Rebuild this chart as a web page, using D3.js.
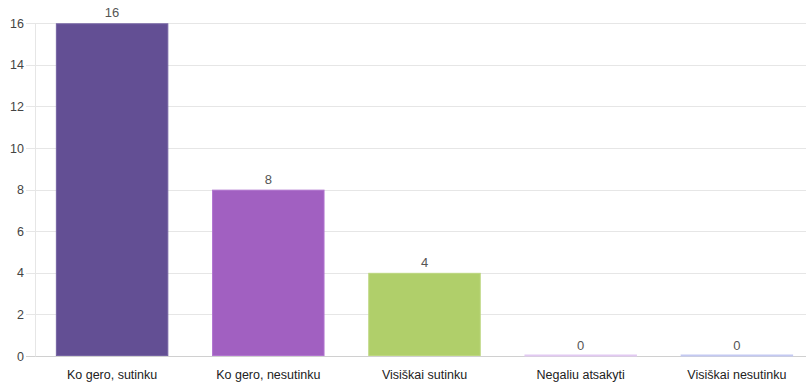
<!DOCTYPE html>
<html><head><meta charset="utf-8">
<script src="https://cdn.jsdelivr.net/npm/d3@7"></script>
<style>body{margin:0;background:#fff}svg{display:block;font-family:Arial,"Liberation Sans",sans-serif}</style>
</head><body>
<svg id="c" width="806" height="385"></svg>
<script>
const categories = ["Ko gero, sutinku","Ko gero, nesutinku","Visiškai sutinku","Negaliu atsakyti","Visiškai nesutinku"];
const values = [16, 8, 4, 0, 0];
const fills = ["#634f94","#a160c1","#b0cf6a","#e2c9f2","#c4c9f2"];
const strokes = ["#7563a3","#b174cf","#bdd77f","#e2c9f2","#c4c9f2"];
const yTicks = [0,2,4,6,8,10,12,14,16];

const svg = d3.select("#c");
const x = d3.scaleBand().domain(categories).range([34, 815]).paddingInner(0.28).paddingOuter(0.14);
const y = d3.scaleLinear().domain([0,16]).range([356, 23.3]);

// gridlines
svg.append("g").selectAll("line").data(yTicks).join("line")
  .attr("x1",26).attr("x2",806)
  .attr("y1",d=>Math.round(y(d))+0.5).attr("y2",d=>Math.round(y(d))+0.5)
  .attr("stroke",d=>d===0?"#d0d0d0":"#e6e6e6").attr("stroke-width",1);
// vertical axis line
svg.append("line").attr("x1",35.5).attr("x2",35.5).attr("y1",y(16)).attr("y2",y(0)+0.5)
  .attr("stroke","#e6e6e6");

// y axis labels
const yAxis = d3.axisLeft(y).tickValues(yTicks).tickSize(0).tickPadding(0);
const ga = svg.append("g").attr("transform","translate(24,0)").call(yAxis);
ga.select(".domain").remove();
ga.selectAll("text").attr("font-size",12.5).attr("fill","#444").attr("font-family","Arial,'Liberation Sans',sans-serif");

// bars
svg.append("g").selectAll("rect").data(values).join("rect")
  .attr("x",(d,i)=>x(categories[i])+0.5)
  .attr("y",d=>y(d)+0.5)
  .attr("width",x.bandwidth()-1)
  .attr("height",d=>Math.max(0,y(0)-y(d)-1))
  .attr("fill",(d,i)=>fills[i])
  .attr("stroke",(d,i)=>strokes[i]).attr("stroke-width",1);
// zero-height bars line
svg.append("g").selectAll("line").data(values.map((v,i)=>({v,i})).filter(o=>o.v===0)).join("line")
  .attr("x1",o=>x(categories[o.i])).attr("x2",o=>x(categories[o.i])+x.bandwidth())
  .attr("y1",y(0)-0.5).attr("y2",y(0)-0.5)
  .attr("stroke",o=>fills[o.i]).attr("stroke-width",2);

// value labels
svg.append("g").selectAll("text").data(values).join("text")
  .attr("x",(d,i)=>x(categories[i])+x.bandwidth()/2)
  .attr("y",d=>y(d)-6)
  .attr("text-anchor","middle").attr("font-size",13).attr("fill","#555")
  .text(d=>d);

// category labels
const xAxis = d3.axisBottom(x).tickSize(0).tickPadding(0);
const gx = svg.append("g").attr("transform","translate(0,370)").call(xAxis);
gx.select(".domain").remove();
gx.selectAll("text").attr("font-size",12.5).attr("fill","#222").attr("font-family","Arial,'Liberation Sans',sans-serif");
</script>
</body></html>
